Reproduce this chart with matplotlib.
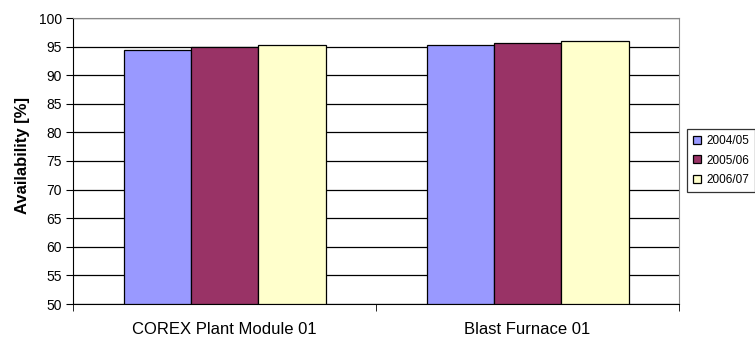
import matplotlib.pyplot as plt
import numpy as np

plt.rcParams['font.family'] = ['Liberation Sans', 'DejaVu Sans']

categories = ['COREX Plant Module 01', 'Blast Furnace 01']
seasons = ['2004/05', '2005/06', '2006/07']
availability = {
    '2004/05': [94.4, 95.3],
    '2005/06': [94.9, 95.6],
    '2006/07': [95.2, 95.95],
}
colors = ['#9999FF', '#993366', '#FFFFCC']

fig = plt.figure(figsize=(7.55, 3.4), dpi=100)
ax = fig.add_axes([73/755, 1 - 304/340, (679 - 73)/755, (304 - 18)/340])

x = np.arange(len(categories))
w = 2/9
for i, s in enumerate(seasons):
    ax.bar(x + (i - 1) * w, np.array(availability[s]) - 50, w, bottom=50,
           color=colors[i], edgecolor='black', linewidth=0.9, label=s, zorder=3)

ax.set_xlim(-0.5, 1.5)
ax.set_ylim(50, 100)
ax.set_yticks(np.arange(50, 101, 5))
ax.yaxis.grid(True, color='black', linewidth=0.9, zorder=0)
ax.set_xticks(x)
ax.set_xticklabels(categories, fontsize=12)
ax.tick_params(axis='x', length=0, pad=13)
ax.set_xticks([-0.5, 0.5, 1.5], minor=True)
ax.tick_params(axis='x', which='minor', length=5, color='black')
ax.tick_params(axis='y', labelsize=10, length=5, color='black', pad=3)
ax.set_ylabel('Availability [%]', fontsize=12, fontweight='bold')
ax.yaxis.set_label_coords(-0.071, 0.52)

for side in ['top', 'right']:
    ax.spines[side].set_color('#888888')
for side in ['left', 'bottom']:
    ax.spines[side].set_color('black')

# legend sits at the right edge, frame runs off the figure like the original
leg = fig.legend(loc='upper left', bbox_to_anchor=(687/755, 1 - 129/340),
                 fontsize=8.5, frameon=True, fancybox=False, edgecolor='black',
                 handlelength=0.65, handleheight=0.65, handletextpad=0.5,
                 borderpad=0.5, labelspacing=0.65, borderaxespad=0)
leg.get_frame().set_linewidth(0.9)

fig.savefig('out.png', dpi=100)
